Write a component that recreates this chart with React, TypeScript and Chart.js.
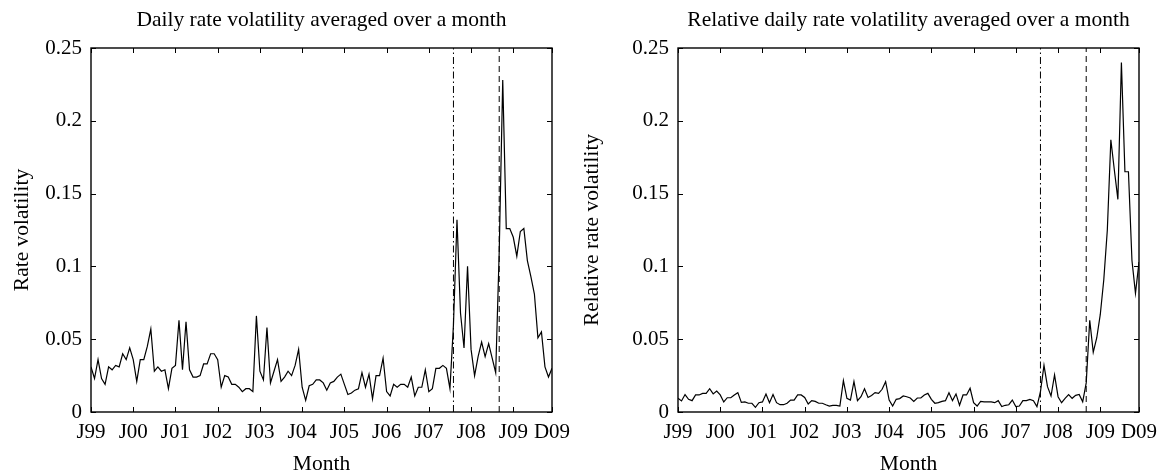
import React, { useEffect, useRef } from "react";
import { Chart, registerables } from "chart.js";

Chart.register(...registerables);

// Month index 0 = Jan 1999 ... 131 = Dec 2009
const tickMonths = [0, 12, 24, 36, 48, 60, 72, 84, 96, 108, 120, 131];
const tickLabels = ["J99", "J00", "J01", "J02", "J03", "J04", "J05", "J06", "J07", "J08", "J09", "D09"];
const yTicks = [0, 0.05, 0.1, 0.15, 0.2, 0.25];

const dashDotMonth = 103; // Aug 2007
const dashedMonth = 116; // Sep 2008

const rateVolatility = [
  0.031, 0.023, 0.036, 0.023, 0.019, 0.031, 0.029, 0.032, 0.031, 0.040, 0.036, 0.044,
  0.036, 0.021, 0.036, 0.036, 0.045, 0.057, 0.028, 0.031, 0.028, 0.029, 0.016, 0.030,
  0.032, 0.063, 0.029, 0.062, 0.029, 0.024, 0.024, 0.025, 0.033, 0.033, 0.040, 0.040,
  0.036, 0.017, 0.025, 0.024, 0.019, 0.019, 0.017, 0.014, 0.016, 0.016, 0.014, 0.066,
  0.028, 0.022, 0.058, 0.020, 0.028, 0.036, 0.021, 0.024, 0.028, 0.025, 0.032, 0.043,
  0.017, 0.008, 0.018, 0.019, 0.022, 0.022, 0.020, 0.015, 0.020, 0.021, 0.024, 0.026,
  0.019, 0.012, 0.013, 0.015, 0.016, 0.027, 0.017, 0.026, 0.009, 0.025, 0.025, 0.037,
  0.014, 0.011, 0.019, 0.017, 0.019, 0.019, 0.017, 0.024, 0.011, 0.017, 0.017, 0.029,
  0.014, 0.016, 0.030, 0.030, 0.032, 0.030, 0.016, 0.060, 0.132, 0.068, 0.044, 0.100,
  0.043, 0.025, 0.038, 0.048, 0.038, 0.047, 0.037, 0.027, 0.110, 0.228, 0.126, 0.126,
  0.120, 0.107, 0.124, 0.126, 0.104, 0.093, 0.081, 0.051, 0.055, 0.031, 0.024, 0.030,
];

const relativeVolatility = [
  0.0094, 0.0076, 0.012, 0.0087, 0.0078, 0.0117, 0.0117, 0.0128, 0.0128, 0.016, 0.0124, 0.0144,
  0.0117, 0.0069, 0.0098, 0.0098, 0.0117, 0.0133, 0.0066, 0.0069, 0.006, 0.006, 0.0032, 0.0064,
  0.0069, 0.0124, 0.0064, 0.012, 0.0064, 0.005, 0.005, 0.006, 0.0082, 0.0082, 0.0117, 0.0117,
  0.010, 0.0055, 0.0078, 0.0073, 0.006, 0.006, 0.005, 0.0041, 0.0046, 0.0046, 0.0041, 0.0215,
  0.0094, 0.0082, 0.021, 0.0078, 0.0105, 0.016, 0.010, 0.0114, 0.0133, 0.0128, 0.0156, 0.0208,
  0.0082, 0.0041, 0.0087, 0.0092, 0.011, 0.0105, 0.0096, 0.0073, 0.0096, 0.0096, 0.0117, 0.0128,
  0.0087, 0.006, 0.0064, 0.0073, 0.0078, 0.0133, 0.0078, 0.0124, 0.0046, 0.0117, 0.0117, 0.0163,
  0.0064, 0.0041, 0.0073, 0.0069, 0.0069, 0.0069, 0.0064, 0.0078, 0.0037, 0.0046, 0.005, 0.0082,
  0.0037, 0.0041, 0.0078, 0.0078, 0.0087, 0.0078, 0.0037, 0.014, 0.032, 0.0174, 0.011, 0.0254,
  0.0105, 0.0064, 0.0094, 0.012, 0.0094, 0.0114, 0.012, 0.007, 0.020, 0.063, 0.041, 0.051,
  0.067, 0.091, 0.125, 0.187, 0.166, 0.146, 0.240, 0.165, 0.165, 0.104, 0.0815, 0.103,
];

const FONT = "'Liberation Serif', 'DejaVu Serif', serif";
const W = 1163;
const H = 475;

const boxTicksPlugin = {
  id: "boxTicks",
  afterDraw(chart: any) {
    const { ctx, chartArea } = chart;
    const xs = chart.scales.x;
    const ys = chart.scales.y;
    const { left, right, top, bottom } = chartArea;
    const len = 5;
    ctx.save();
    ctx.strokeStyle = "#000";
    ctx.lineWidth = 1;
    ctx.beginPath();
    tickMonths.forEach((m) => {
      const px = Math.round(xs.getPixelForValue(m)) + 0.5;
      ctx.moveTo(px, bottom);
      ctx.lineTo(px, bottom - len);
      ctx.moveTo(px, top);
      ctx.lineTo(px, top + len);
    });
    yTicks.forEach((v) => {
      const py = Math.round(ys.getPixelForValue(v)) + 0.5;
      ctx.moveTo(left, py);
      ctx.lineTo(left + len, py);
      ctx.moveTo(right, py);
      ctx.lineTo(right - len, py);
    });
    ctx.stroke();
    ctx.lineWidth = 1.4;
    ctx.strokeRect(left, top, right - left, bottom - top);
    ctx.restore();
  },
};

type PanelProps = {
  left: number;
  width: number;
  yAxisWidth: number;
  padRight: number;
  yTitlePad: number;
  title: string;
  yTitle: string;
  values: number[];
};

function Panel({ left, width, yAxisWidth, padRight, yTitlePad, title, yTitle, values }: PanelProps) {
  const ref = useRef<HTMLCanvasElement | null>(null);
  useEffect(() => {
    if (!ref.current) return;
    const points = values.map((v, i) => ({ x: i, y: v }));
    const chart = new Chart(ref.current, {
      type: "line",
      data: {
        datasets: [
          {
            data: points,
            borderColor: "#000",
            borderWidth: 1.2,
            pointRadius: 0,
            tension: 0,
          },
          {
            data: [
              { x: dashDotMonth, y: yTicks[0] },
              { x: dashDotMonth, y: yTicks[yTicks.length - 1] },
            ],
            borderColor: "#000",
            borderWidth: 1,
            borderDash: [7, 3, 1.5, 3],
            pointRadius: 0,
          },
          {
            data: [
              { x: dashedMonth, y: yTicks[0] },
              { x: dashedMonth, y: yTicks[yTicks.length - 1] },
            ],
            borderColor: "#000",
            borderWidth: 1,
            borderDash: [6, 4],
            pointRadius: 0,
          },
        ],
      },
      options: {
        responsive: false,
        animation: false,
        events: [],
        layout: { padding: { left: 0, right: padRight, top: 0, bottom: 0 } },
        plugins: {
          legend: { display: false },
          tooltip: { enabled: false },
          title: {
            display: true,
            text: title,
            fullSize: false,
            color: "#000",
            font: { family: FONT, size: 21.5, weight: "normal" },
            padding: { top: 7, bottom: 15.2 },
          },
        },
        scales: {
          x: {
            type: "linear",
            min: tickMonths[0],
            max: tickMonths[tickMonths.length - 1],
            grid: { display: false, drawTicks: false },
            border: { display: false },
            afterBuildTicks: (scale: any) => {
              scale.ticks = tickMonths.map((m) => ({ value: m }));
            },
            afterFit: (scale: any) => {
              scale.height = 63;
              scale.paddingLeft = 0;
              scale.paddingRight = 0;
            },
            ticks: {
              autoSkip: false,
              maxRotation: 0,
              minRotation: 0,
              padding: 8,
              color: "#000",
              font: { family: FONT, size: 21 },
              callback: (v: any) => {
                const idx = tickMonths.indexOf(Number(v));
                return idx >= 0 ? tickLabels[idx] : "";
              },
            },
            title: {
              display: true,
              text: "Month",
              color: "#000",
              font: { family: FONT, size: 21.5 },
              padding: { top: 0, bottom: -2 },
            },
          },
          y: {
            type: "linear",
            min: yTicks[0],
            max: yTicks[yTicks.length - 1],
            grid: { display: false, drawTicks: false },
            border: { display: false },
            afterBuildTicks: (scale: any) => {
              scale.ticks = yTicks.map((v) => ({ value: v }));
            },
            afterFit: (scale: any) => {
              scale.width = yAxisWidth;
            },
            ticks: {
              padding: 9,
              color: "#000",
              font: { family: FONT, size: 21 },
              callback: (v: any) => String(Number(Number(v).toFixed(2))),
            },
            title: {
              display: true,
              text: yTitle,
              color: "#000",
              font: { family: FONT, size: 21.5 },
              padding: { top: yTitlePad, bottom: 0 },
            },
          },
        },
      },
      plugins: [boxTicksPlugin],
    } as any);
    return () => chart.destroy();
  }, [values, title, yTitle, yAxisWidth, padRight, yTitlePad]);

  return (
    <canvas
      ref={ref}
      width={width}
      height={H}
      style={{ position: "absolute", left, top: 0, width, height: H }}
    />
  );
}

export default function App() {
  return (
    <div
      style={{
        position: "absolute",
        left: 0,
        top: 0,
        width: W,
        height: H,
        background: "#fff",
        overflow: "hidden",
      }}
    >
      <Panel
        left={0}
        width={575}
        yAxisWidth={91}
        padRight={23}
        yTitlePad={9}
        title="Daily rate volatility averaged over a month"
        yTitle="Rate volatility"
        values={rateVolatility}
      />
      <Panel
        left={575}
        width={588}
        yAxisWidth={103}
        padRight={24}
        yTitlePad={4}
        title="Relative daily rate volatility averaged over a month"
        yTitle="Relative rate volatility"
        values={relativeVolatility}
      />
    </div>
  );
}
